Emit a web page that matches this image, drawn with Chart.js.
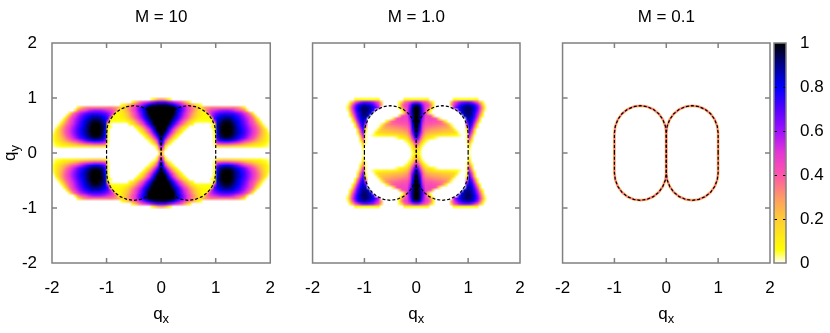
<!DOCTYPE html>
<html>
<head>
<meta charset="utf-8">
<script src="https://cdn.jsdelivr.net/npm/chart.js@4.4.0/dist/chart.umd.min.js"></script>
<style>
    html, body { margin: 0; padding: 0; background: #fff; }
    #wrap { position: relative; width: 830px; height: 333px; overflow: hidden; }
    .panel { position: absolute; top: 0; height: 333px; }
</style>
</head>
<body>
<div id="wrap">
    <div class="panel" style="left:0;width:290px"><canvas id="c1" width="290" height="333"></canvas></div>
    <div class="panel" style="left:290px;width:250px"><canvas id="c2" width="250" height="333"></canvas></div>
    <div class="panel" style="left:540px;width:290px"><canvas id="c3" width="290" height="333"></canvas></div>
</div>
<script>
// ---- data ----
const panelTitles = ['M = 10', 'M = 1.0', 'M = 0.1'];
const axisTicks = [-2, -1, 0, 1, 2];
const cbTicks = [0, 0.2, 0.4, 0.6, 0.8, 1];

// colour palette of the map
const cmapStops  = [0, 0.06, 0.2, 0.3, 0.4, 0.5, 0.6, 0.7, 0.8, 0.9, 1];
const cmapColors = ['#ffffff', '#ffff00', '#ffcc33', '#ff9966', '#ff55aa', '#e535d5', '#a010ff', '#5500ff', '#0000ff', '#00008c', '#000000'];

// cell centres of the upper right quadrant (the maps are symmetric in qx and qy)
const gridQx = [0.025, 0.075, 0.125, 0.175, 0.225, 0.275, 0.325, 0.375, 0.425, 0.475,
                0.525, 0.575, 0.625, 0.675, 0.725, 0.775, 0.825, 0.875, 0.925, 0.975,
                1.025, 1.075, 1.125, 1.175, 1.225, 1.275, 1.325, 1.375, 1.425, 1.475,
                1.525, 1.575, 1.625, 1.675, 1.725, 1.775, 1.825, 1.875, 1.925, 1.975];
const gridQy = [0.975, 0.925, 0.875, 0.825, 0.775, 0.725, 0.675, 0.625, 0.575, 0.525,
                0.475, 0.425, 0.375, 0.325, 0.275, 0.225, 0.175, 0.125, 0.075, 0.025];

// M = 10, one row per qy (top to bottom); cells left out of a row are 0
const mapM10 = [
    [0.30, 0.25, 0.15, 0.05],
    [0.70, 0.70, 0.65, 0.60, 0.55, 0.50, 0.45, 0.38, 0.30, 0.20,  0.08],
    [0.95, 0.95, 0.92, 0.88, 0.80, 0.72, 0.64, 0.56, 0.48, 0.40,  0.33, 0.26, 0.18, 0.10, 0.05],
    [1, 1, 1, 1, 1, 0.90, 0.80, 0.70, 0.60, 0.50,                  0.42, 0.34, 0.27, 0.20, 0.15, 0.25, 0.30, 0.32, 0.35, 0.35,
     0.35, 0.35, 0.35, 0.35, 0.35, 0.35, 0.35, 0.33, 0.30, 0.22,  0.10],
    [1, 1, 1, 1, 1, 0.90, 0.80, 0.70, 0.60, 0.50,                  0.42, 0.34, 0.26, 0.19, 0.13, 0.10, 0.35, 0.42, 0.48, 0.52,
     0.55, 0.58, 0.60, 0.60, 0.60, 0.58, 0.55, 0.50, 0.45, 0.40,  0.33, 0.12],
    [1, 1, 1, 1, 1, 0.88, 0.77, 0.66, 0.56, 0.46,                  0.38, 0.30, 0.22, 0.16, 0.11, 0.08, 0.08, 0.45, 0.55, 0.62,
     0.67, 0.70, 0.72, 0.73, 0.73, 0.72, 0.70, 0.66, 0.62, 0.57,  0.50, 0.42, 0.30, 0.10],
    [1, 1, 1, 1, 0.95, 0.85, 0.74, 0.63, 0.53, 0.44,               0.35, 0.27, 0.20, 0.14, 0.10, 0.08, 0.07, 0.08, 0.55, 0.68,
     0.75, 0.80, 0.83, 0.85, 0.85, 0.84, 0.80, 0.76, 0.71, 0.65,  0.58, 0.50, 0.42, 0.30, 0.12],
    [1, 1, 1, 1, 0.90, 0.80, 0.68, 0.57, 0.47, 0.38,               0.30, 0.22, 0.15, 0.10, 0.07, 0.06, 0.06, 0.06, 0.10, 0.70,
     0.80, 0.86, 0.90, 0.92, 0.92, 0.90, 0.86, 0.80, 0.75, 0.68,  0.62, 0.55, 0.47, 0.38, 0.25, 0.08],
    [1, 1, 1, 0.93, 0.82, 0.70, 0.58, 0.47, 0.37, 0.28,            0.20, 0.12, 0.07, 0.05, 0.05, 0.05, 0.05, 0.05, 0.06, 0.50,
     0.82, 0.90, 0.95, 0.97, 0.97, 0.95, 0.90, 0.85, 0.79, 0.72,  0.65, 0.58, 0.50, 0.42, 0.33, 0.20, 0.05],
    [1, 1, 1, 0.88, 0.75, 0.62, 0.50, 0.39, 0.29, 0.20,            0.12, 0.06, 0, 0, 0, 0, 0, 0, 0.02, 0.10,
     0.85, 0.93, 0.98, 1, 1, 0.98, 0.93, 0.87, 0.80, 0.74,        0.67, 0.60, 0.52, 0.45, 0.37, 0.28, 0.15, 0.03],
    [1, 1, 0.90, 0.76, 0.62, 0.48, 0.35, 0.24, 0.14, 0.07,         0, 0, 0, 0, 0, 0, 0, 0, 0.04, 0.08,
     0.85, 0.95, 1, 1, 1, 1, 0.95, 0.89, 0.82, 0.76,              0.70, 0.63, 0.56, 0.49, 0.42, 0.34, 0.25, 0.12, 0.02],
    [1, 1, 0.82, 0.65, 0.50, 0.36, 0.24, 0.13, 0.06, 0,            0, 0, 0, 0, 0, 0, 0, 0, 0, 0.06,
     0.82, 0.95, 1, 1, 1, 1, 0.95, 0.90, 0.84, 0.78,              0.72, 0.65, 0.58, 0.51, 0.44, 0.36, 0.28, 0.19, 0.08],
    [1, 0.90, 0.72, 0.55, 0.40, 0.27, 0.15, 0.07, 0, 0,            0, 0, 0, 0, 0, 0, 0, 0, 0, 0.05,
     0.80, 0.94, 1, 1, 1, 1, 0.95, 0.90, 0.84, 0.78,              0.72, 0.65, 0.58, 0.51, 0.44, 0.36, 0.28, 0.20, 0.12, 0.03],
    [0.95, 0.80, 0.60, 0.42, 0.28, 0.15, 0.06, 0, 0, 0,            0, 0, 0, 0, 0, 0, 0, 0, 0, 0.05,
     0.78, 0.92, 0.98, 1, 1, 0.98, 0.93, 0.88, 0.82, 0.76,        0.70, 0.63, 0.56, 0.49, 0.42, 0.34, 0.26, 0.19, 0.12, 0.05],
    [0.88, 0.65, 0.45, 0.30, 0.16, 0.06, 0, 0, 0, 0,               0, 0, 0, 0, 0, 0, 0, 0, 0, 0.04,
     0.75, 0.88, 0.93, 0.95, 0.95, 0.93, 0.88, 0.83, 0.77, 0.71,  0.65, 0.58, 0.51, 0.44, 0.37, 0.30, 0.23, 0.17, 0.11, 0.05],
    [0.80, 0.50, 0.30, 0.15, 0.05, 0, 0, 0, 0, 0,                  0, 0, 0, 0, 0, 0, 0, 0, 0, 0.04,
     0.65, 0.75, 0.78, 0.80, 0.80, 0.78, 0.74, 0.69, 0.63, 0.57,  0.51, 0.45, 0.40, 0.35, 0.30, 0.25, 0.20, 0.15, 0.10, 0.05],
    [0.70, 0.35, 0.15, 0.05, 0, 0, 0, 0, 0, 0,                     0, 0, 0, 0, 0, 0, 0, 0, 0, 0.03,
     0.45, 0.50, 0.52, 0.52, 0.52, 0.50, 0.47, 0.44, 0.40, 0.36,  0.32, 0.28, 0.25, 0.22, 0.18, 0.15, 0.12, 0.09, 0.06, 0.03],
    [0.55, 0.15, 0.03, 0, 0, 0, 0, 0, 0, 0,                        0, 0, 0, 0, 0, 0, 0, 0, 0, 0.02,
     0.15, 0.18, 0.20, 0.20, 0.20, 0.19, 0.18, 0.16, 0.15, 0.14,  0.12, 0.11, 0.10, 0.09, 0.08, 0.07, 0.06, 0.05, 0.04, 0.02],
    [0.40, 0.05],
    [0.20]
];

// M = 1.0
const mapM1 = [
    [0.08, 0.08, 0.08, 0.08, 0.08, 0, 0, 0, 0, 0,                  0, 0, 0, 0, 0.06, 0.06, 0.06, 0.06, 0.06, 0.06,
     0.06, 0.06, 0.06, 0.06],
    [0.60, 0.55, 0.48, 0.42, 0.35, 0.20, 0.05, 0, 0, 0,            0, 0, 0, 0.20, 0.40, 0.50, 0.58, 0.62, 0.65, 0.66,
     0.65, 0.60, 0.52, 0.40, 0.25, 0.08],
    [0.90, 0.80, 0.60, 0.50, 0.45, 0.35, 0.12, 0, 0, 0,            0, 0, 0, 0.30, 0.50, 0.60, 0.70, 0.78, 0.83, 0.86,
     0.86, 0.82, 0.75, 0.62, 0.45, 0.22, 0.03],
    [1, 0.88, 0.65, 0.50, 0.42, 0.30, 0.08, 0, 0, 0,               0, 0, 0, 0, 0.55, 0.68, 0.78, 0.85, 0.90, 0.92,
     0.92, 0.88, 0.80, 0.68, 0.52, 0.30, 0.05],
    [1, 0.90, 0.68, 0.50, 0.30, 0.06, 0, 0, 0, 0,                  0, 0, 0, 0, 0, 0, 0.72, 0.85, 0.90, 0.93,
     0.93, 0.88, 0.80, 0.66, 0.48, 0.25, 0.03],
    [1, 0.90, 0.70, 0.50, 0.25, 0.03, 0, 0, 0, 0,                  0, 0, 0, 0, 0, 0, 0, 0.80, 0.88, 0.92,
     0.92, 0.86, 0.76, 0.60, 0.40, 0.15],
    [1, 0.88, 0.65, 0.48, 0.45, 0.42, 0.20, 0, 0, 0,               0, 0, 0, 0, 0, 0, 0, 0, 0.85, 0.90,
     0.90, 0.84, 0.72, 0.55, 0.30, 0.06],
    [1, 0.86, 0.60, 0.46, 0.45, 0.45, 0.44, 0.40, 0.22, 0.03,      0, 0, 0, 0, 0, 0, 0, 0, 0, 0.85,
     0.88, 0.80, 0.66, 0.45, 0.18],
    [1, 0.84, 0.56, 0.44, 0.43, 0.43, 0.42, 0.42, 0.40, 0.36,      0.25, 0.08, 0, 0, 0, 0, 0, 0, 0, 0.70,
     0.85, 0.76, 0.58, 0.32, 0.06],
    [0.98, 0.80, 0.52, 0.42, 0.40, 0.40, 0.39, 0.38, 0.37, 0.36,   0.34, 0.30, 0.18, 0.03, 0, 0, 0, 0, 0, 0.55,
     0.82, 0.70, 0.48, 0.18],
    [0.96, 0.76, 0.48, 0.38, 0.36, 0.35, 0.34, 0.33, 0.32, 0.31,   0.30, 0.29, 0.26, 0.15, 0.02, 0, 0, 0, 0, 0.30,
     0.78, 0.62, 0.35, 0.06],
    [0.94, 0.72, 0.44, 0.34, 0.32, 0.30, 0.29, 0.28, 0.27, 0.26,   0.25, 0.24, 0.23, 0.21, 0.13, 0.02, 0, 0, 0, 0.10,
     0.72, 0.52, 0.20],
    [0.90, 0.66, 0.40, 0.29, 0.27, 0.25, 0.24, 0.23, 0.22, 0.21,   0.20, 0.20, 0.19, 0.18, 0.17, 0.10, 0.01, 0, 0, 0.04,
     0.65, 0.42, 0.10],
    [0.82, 0.58, 0.34, 0.24, 0.20, 0.17, 0.15, 0.13, 0.12, 0.11,   0.10, 0.10, 0.09, 0.08, 0.07, 0.06, 0.04, 0.01, 0, 0.03,
     0.55, 0.30, 0.03],
    [0.70, 0.48, 0.27, 0.16, 0.12, 0.09, 0.06, 0.03, 0.01, 0,      0, 0, 0, 0, 0, 0, 0, 0, 0, 0.03,
     0.45, 0.18],
    [0.55, 0.36, 0.18, 0.08, 0.03, 0, 0, 0, 0, 0,                  0, 0, 0, 0, 0, 0, 0, 0, 0, 0.02,
     0.32, 0.08],
    [0.40, 0.22, 0.08, 0.02, 0, 0, 0, 0, 0, 0,                     0, 0, 0, 0, 0, 0, 0, 0, 0, 0.02,
     0.20, 0.02],
    [0.28, 0.13, 0.03, 0, 0, 0, 0, 0, 0, 0,                        0, 0, 0, 0, 0, 0, 0, 0, 0, 0,
     0.10],
    [0.18, 0.07, 0, 0, 0, 0, 0, 0, 0, 0,                           0, 0, 0, 0, 0, 0, 0, 0, 0, 0,
     0.04],
    [0.12, 0.04, 0, 0, 0, 0, 0, 0, 0, 0,                           0, 0, 0, 0, 0, 0, 0, 0, 0, 0,
     0.02]
];

// dashed boundary: upper half of the right oval, from (1,0) round to (0,0)
const ovalQx = [1.0, 1.0, 0.983, 0.933, 0.854, 0.75, 0.629, 0.5, 0.371, 0.25, 0.146, 0.067, 0.017, 0.0, 0.0];
const ovalQy = [0.0, 0.36, 0.489, 0.61, 0.714, 0.793, 0.843, 0.86, 0.843, 0.793, 0.714, 0.61, 0.489, 0.36, 0.0];

// ---- helpers ----
const FONT = '"Liberation Sans", Arial, Helvetica, sans-serif';
const FONT_SIZE = 17;
const frameGrey = '#808080';

function hexRgb(h) {
    return [parseInt(h.slice(1, 3), 16), parseInt(h.slice(3, 5), 16), parseInt(h.slice(5, 7), 16)];
}

function colourFor(v) {
    v = Math.max(0, Math.min(1, v || 0));
    for (let k = 1; k < cmapStops.length; k++) {
        if (v <= cmapStops[k]) {
            const t = (v - cmapStops[k - 1]) / (cmapStops[k] - cmapStops[k - 1]);
            const a = hexRgb(cmapColors[k - 1]), b = hexRgb(cmapColors[k]);
            return a.map((c, i) => Math.round(c + (b[i] - c) * t));
        }
    }
    return hexRgb(cmapColors[cmapColors.length - 1]);
}

// closed curve of one oval, mirrored for the left one
function ovalPoints(sign) {
    const pts = ovalQx.map((v, k) => ({ x: sign * v, y: ovalQy[k] }));
    for (let k = ovalQx.length - 1; k >= 0; k--) pts.push({ x: sign * ovalQx[k], y: -ovalQy[k] });
    return pts;
}

// ---- plugins ----
const heatPlugin = {
    id: 'heat',
    beforeDatasetsDraw(chart, args, opts) {
        const g = opts.grid;
        if (!g) return;
        const nx = gridQx.length, ny = gridQy.length;
        // one white cell of margin all round so the edges fade out
        const W = 2 * nx + 2, H = 2 * ny + 2;
        const off = document.createElement('canvas');
        off.width = W; off.height = H;
        const octx = off.getContext('2d');
        const img = octx.createImageData(W, H);
        img.data.fill(255);
        for (let j = 0; j < 2 * ny; j++) {
            const r = j < ny ? j : 2 * ny - 1 - j;
            for (let i = 0; i < 2 * nx; i++) {
                const c = i < nx ? nx - 1 - i : i - nx;
                const rgb = colourFor(g[r][c]);
                const p = 4 * ((j + 1) * W + i + 1);
                img.data[p] = rgb[0]; img.data[p + 1] = rgb[1]; img.data[p + 2] = rgb[2];
            }
        }
        octx.putImageData(img, 0, 0);

        const { ctx, chartArea: a, scales: { x, y } } = chart;
        const dx = gridQx[1] - gridQx[0], dy = gridQy[0] - gridQy[1];
        const xe = gridQx[nx - 1] + dx * 1.5, ye = gridQy[0] + dy * 1.5;
        const x0 = x.getPixelForValue(-xe), x1 = x.getPixelForValue(xe);
        const y0 = y.getPixelForValue(ye), y1 = y.getPixelForValue(-ye);
        ctx.save();
        ctx.beginPath();
        ctx.rect(a.left, a.top, a.width, a.height);
        ctx.clip();
        ctx.imageSmoothingEnabled = true;
        ctx.drawImage(off, x0, y0, x1 - x0, y1 - y0);
        ctx.restore();
    }
};

const framePlugin = {
    id: 'frame',
    afterDatasetsDraw(chart) {
        const { ctx, chartArea: a, scales: { x, y } } = chart;
        const inner = axisTicks.slice(1, -1);
        ctx.save();
        ctx.strokeStyle = frameGrey;
        ctx.lineWidth = 1.5;
        ctx.strokeRect(a.left, a.top, a.width, a.height);
        ctx.beginPath();
        inner.forEach(v => {
            const px = x.getPixelForValue(v);
            ctx.moveTo(px, a.bottom); ctx.lineTo(px, a.bottom - 5);
            ctx.moveTo(px, a.top); ctx.lineTo(px, a.top + 5);
            const py = y.getPixelForValue(v);
            ctx.moveTo(a.left, py); ctx.lineTo(a.left + 5, py);
            ctx.moveTo(a.right, py); ctx.lineTo(a.right - 5, py);
        });
        ctx.stroke();
        ctx.restore();
    }
};

function drawSubLabel(ctx, main, sub, cx, baseline) {
    ctx.font = FONT_SIZE + 'px ' + FONT;
    const wm = ctx.measureText(main).width;
    ctx.font = '13px ' + FONT;
    const ws = ctx.measureText(sub).width;
    const start = cx - (wm + ws) / 2;
    ctx.textAlign = 'left';
    ctx.textBaseline = 'alphabetic';
    ctx.font = FONT_SIZE + 'px ' + FONT;
    ctx.fillText(main, start, baseline);
    ctx.font = '13px ' + FONT;
    ctx.fillText(sub, start + wm, baseline + 4);
}

const labelPlugin = {
    id: 'labels',
    afterDraw(chart, args, opts) {
        const { ctx, chartArea: a } = chart;
        const cx = (a.left + a.right) / 2;
        ctx.save();
        ctx.fillStyle = '#000';
        ctx.font = FONT_SIZE + 'px ' + FONT;
        ctx.textAlign = 'center';
        ctx.textBaseline = 'alphabetic';
        ctx.fillText(opts.title, cx, 22);
        drawSubLabel(ctx, 'q', 'x', cx, 319);
        if (opts.yTitle) {
            ctx.save();
            ctx.translate(15, (a.top + a.bottom) / 2);
            ctx.rotate(-Math.PI / 2);
            drawSubLabel(ctx, 'q', 'y', 0, 0);
            ctx.restore();
        }
        if (opts.colorbar) {
            const cb = chart.scales.cb;
            const bx = a.right + 4, bw = 12;
            const top = cb.getPixelForValue(1), bot = cb.getPixelForValue(0);
            const grad = ctx.createLinearGradient(0, bot, 0, top);
            cmapStops.forEach((s, k) => grad.addColorStop(s, cmapColors[k]));
            ctx.fillStyle = grad;
            ctx.fillRect(bx, top, bw, bot - top);
            ctx.strokeStyle = '#000';
            ctx.lineWidth = 1;
            ctx.beginPath();
            cbTicks.slice(1, -1).forEach(v => {
                const py = Math.round(cb.getPixelForValue(v)) + 0.5;
                ctx.moveTo(bx, py); ctx.lineTo(bx + 3, py);
                ctx.moveTo(bx + bw, py); ctx.lineTo(bx + bw - 3, py);
            });
            ctx.stroke();
            ctx.strokeStyle = frameGrey;
            ctx.lineWidth = 1.5;
            ctx.strokeRect(bx, top, bw, bot - top);
        }
        ctx.restore();
    }
};

// ---- charts ----
function tickFont() { return { family: FONT, size: FONT_SIZE }; }

function makeChart(id, grid, opts) {
    const datasets = [];
    [-1, 1].forEach(s => {
        datasets.push({
            data: ovalPoints(s), showLine: true, pointRadius: 0, borderColor: '#000',
            borderWidth: 1.2, borderDash: [3, 2], order: 0
        });
    });
    if (opts.ring) {
        [-1, 1].forEach(s => {
            datasets.push({ data: ovalPoints(s), showLine: true, pointRadius: 0, borderColor: '#ff70a8', borderWidth: 1.8, order: 1 });
            datasets.push({ data: ovalPoints(s), showLine: true, pointRadius: 0, borderColor: '#ffdf50', borderWidth: 3, order: 2 });
        });
    }

    const scales = {
        x: {
            type: 'linear', min: -2, max: 2,
            afterBuildTicks: s => { s.ticks = axisTicks.map(v => ({ value: v })); },
            afterFit: s => { s.height = 40; },
            grid: { display: false, drawTicks: false },
            border: { display: false },
            ticks: { font: tickFont(), color: '#000', padding: 15, maxRotation: 0 }
        },
        y: {
            type: 'linear', min: -2, max: 2,
            afterBuildTicks: s => { s.ticks = axisTicks.map(v => ({ value: v })); },
            afterFit: s => { s.width = opts.yLabels ? 52 : 10; },
            grid: { display: false, drawTicks: false },
            border: { display: false },
            ticks: { display: !!opts.yLabels, font: tickFont(), color: '#000', padding: 15 }
        }
    };
    if (opts.colorbar) {
        scales.cb = {
            axis: 'y', type: 'linear', position: 'right', min: 0, max: 1,
            afterBuildTicks: s => { s.ticks = cbTicks.map(v => ({ value: v })); },
            afterFit: s => { s.width = 55; },
            grid: { display: false, drawTicks: false },
            border: { display: false },
            ticks: { font: tickFont(), color: '#000', padding: 30, callback: v => String(v) }
        };
    }

    return new Chart(document.getElementById(id), {
        type: 'scatter',
        data: { datasets },
        options: {
            responsive: false,
            animation: false,
            events: [],
            devicePixelRatio: 1,
            layout: { padding: { left: 0, right: opts.padRight, top: 43, bottom: 30 } },
            scales,
            plugins: {
                legend: { display: false },
                tooltip: { enabled: false },
                heat: { grid },
                labels: { title: opts.title, yTitle: !!opts.yLabels, colorbar: !!opts.colorbar }
            }
        },
        plugins: [heatPlugin, framePlugin, labelPlugin]
    });
}

makeChart('c1', mapM10, { title: panelTitles[0], yLabels: true, padRight: 18 });
makeChart('c2', mapM1, { title: panelTitles[1], padRight: 20 });
makeChart('c3', null, { title: panelTitles[2], padRight: 5, colorbar: true, ring: true });
</script>
</body>
</html>
